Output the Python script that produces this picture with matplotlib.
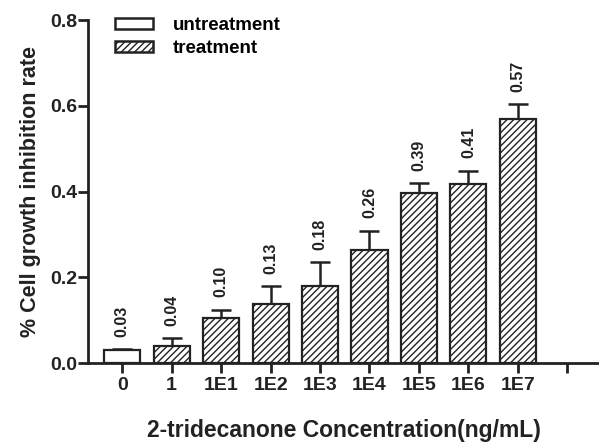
import matplotlib
matplotlib.use("Agg")
import matplotlib.pyplot as plt
from matplotlib.patches import Patch

plt.rcParams["font.family"] = ["Liberation Sans", "DejaVu Sans"]
plt.rcParams["font.weight"] = "bold"
plt.rcParams["axes.labelweight"] = "bold"
plt.rcParams["hatch.linewidth"] = 1.0
plt.rcParams["hatch.color"] = "#333333"

# -------------------------------
# DATA
# -------------------------------

categories = ["0", "1", "1E1", "1E2", "1E3", "1E4", "1E5", "1E6", "1E7"]
values = [0.030, 0.040, 0.105, 0.137, 0.181, 0.263, 0.396, 0.417, 0.570]
errors = [0.002, 0.018, 0.020, 0.042, 0.054, 0.046, 0.023, 0.032, 0.034]
labels = ["0.03", "0.04", "0.10", "0.13", "0.18", "0.26", "0.39", "0.41", "0.57"]
y_ticks = [0.0, 0.2, 0.4, 0.6, 0.8]

edge = "#222222"

# -------------------------------
# FIGURE
# -------------------------------

fig = plt.figure(figsize=(5.99, 4.42), dpi=100)
ax = fig.add_axes([0.147, 0.1785, 0.853, 0.776])

x = list(range(len(categories)))
hatches = [""] + ["/////"] * (len(categories) - 1)

for xi, v, h in zip(x, values, hatches):
    ax.bar(xi, v, width=0.73, color="white", edgecolor=edge,
           linewidth=1.6, hatch=h, zorder=2)

ax.errorbar(x, values, yerr=[[0] * len(errors), errors], fmt="none",
            ecolor=edge, elinewidth=1.8, capsize=7, capthick=1.8, zorder=1)

for xi, v, e, lab in zip(x, values, errors, labels):
    ax.annotate(lab, (xi, v + e), xytext=(0, 9), textcoords="offset points",
                rotation=90, ha="center", va="bottom", fontsize=11.5,
                color="#222222")

ax.set_xlim(-0.69, 9.64)
ax.set_ylim(0, 0.8)
ax.set_xticks(x + [9])
ax.set_xticklabels(categories + [""], fontsize=14)
ax.set_yticks(y_ticks)
ax.set_yticklabels([f"{t:.1f}" for t in y_ticks], fontsize=14)

for side in ["top", "right"]:
    ax.spines[side].set_visible(False)
for side in ["left", "bottom"]:
    ax.spines[side].set_linewidth(2.0)
    ax.spines[side].set_color(edge)
ax.tick_params(axis="both", direction="out", length=7, width=2.0,
               colors=edge)
ax.tick_params(axis="x", pad=3)
ax.tick_params(axis="y", pad=1)

ax.set_ylabel("% Cell growth inhibition rate", fontsize=15.5, color="#222222",
              labelpad=6)
ax.set_xlabel("2-tridecanone Concentration(ng/mL)", fontsize=16.5,
              color="#222222", labelpad=18)

handles = [
    Patch(facecolor="white", edgecolor=edge, linewidth=1.8, label="untreatment"),
    Patch(facecolor="white", edgecolor=edge, linewidth=1.8, hatch="/////",
          label="treatment"),
]
ax.legend(handles=handles, loc="upper left", bbox_to_anchor=(0.035, 1.035),
          frameon=False, fontsize=13.5, handlelength=2.0, handleheight=0.55,
          labelspacing=0.3, borderpad=0, handletextpad=1.05)

fig.savefig("out.png", dpi=100)
plt.close(fig)
